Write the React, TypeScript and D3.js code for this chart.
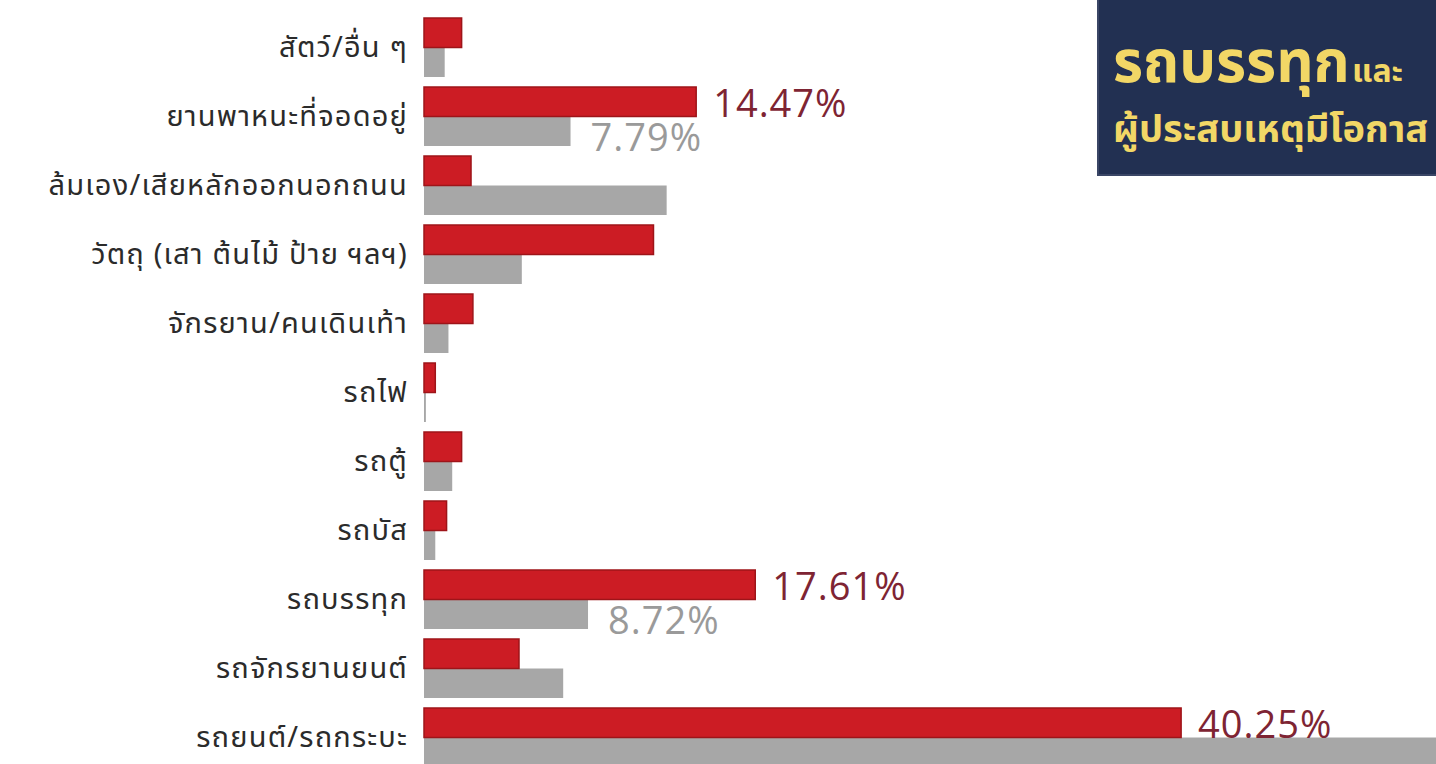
import React from "react";
import * as d3 from "d3";

const categories = [
  "สัตว์/อื่น ๆ",
  "ยานพาหนะที่จอดอยู่",
  "ล้มเอง/เสียหลักออกนอกถนน",
  "วัตถุ (เสา ต้นไม้ ป้าย ฯลฯ)",
  "จักรยาน/คนเดินเท้า",
  "รถไฟ",
  "รถตู้",
  "รถบัส",
  "รถบรรทุก",
  "รถจักรยานยนต์",
  "รถยนต์/รถกระบะ",
];
const redValues = [2.0, 14.47, 2.5, 12.2, 2.6, 0.6, 2.0, 1.2, 17.61, 5.05, 40.25];
const grayValues = [1.1, 7.79, 12.9, 5.2, 1.3, 0.1, 1.5, 0.6, 8.72, 7.4, 54.2];
const redLabels = ["", "14.47%", "", "", "", "", "", "", "17.61%", "", "40.25%"];
const grayLabels = ["", "7.79%", "", "", "", "", "", "", "8.72%", "", ""];
const titleLine1a = "รถบรรทุก";
const titleLine1b = "และ";
const titleLine2 = "ผู้ประสบเหตุมีโอกาส";

const W = 1436;
const H = 764;
const THAI = "'Noto Sans Thai', 'Noto Sans Thai UI', 'Noto Sans', sans-serif";
const NUM = "'Open Sans', 'Noto Sans', sans-serif";

export default function App() {
  const x = d3.scaleLinear().domain([0, 53.8]).range([424, W]);
  const y = d3
    .scaleBand<string>()
    .domain(categories)
    .range([18, 18 + 69 * 11 - 10])
    .paddingInner(10 / 69)
    .paddingOuter(0);
  const sub = d3.scaleBand<string>().domain(["red", "gray"]).range([0, y.bandwidth()]);

  return (
    <svg
      width={W}
      height={H}
      style={{ position: "absolute", left: 0, top: 0, background: "#fff" }}
    >
      <rect x={0} y={0} width={W} height={H} fill="#fff" />
      {categories.map((c, i) => {
        const y0 = y(c)!;
        const yr = y0 + sub("red")!;
        const yg = y0 + sub("gray")!;
        return (
          <g key={c}>
            <rect
              x={x(0)}
              y={yg}
              width={x(grayValues[i]) - x(0)}
              height={sub.bandwidth()}
              fill="#a7a7a7"
            />
            <rect
              x={x(0)}
              y={yr}
              width={x(redValues[i]) - x(0)}
              height={sub.bandwidth()}
              fill="#cc1c24"
              stroke="#9e1419"
              strokeWidth={1.5}
            />
            <text
              x={408}
              y={y0 + y.bandwidth() / 2}
              textAnchor="end"
              dominantBaseline="central"
              fontFamily={THAI}
              fontSize={29}
              letterSpacing={1.2}
              fill="#2b2b2b"
            >
              {c}
            </text>
            {redLabels[i] && (
              <text
                x={x(redValues[i]) + 17}
                y={yr + sub.bandwidth()}
                fontFamily={NUM}
                fontSize={38}
                letterSpacing={1}
                fill="#7e2433"
              >
                {redLabels[i]}
              </text>
            )}
            {grayLabels[i] && (
              <text
                x={x(grayValues[i]) + 20}
                y={yg + sub.bandwidth() + 5}
                fontFamily={NUM}
                fontSize={38}
                letterSpacing={1}
                fill="#9a9a9a"
              >
                {grayLabels[i]}
              </text>
            )}
          </g>
        );
      })}
      <g>
        <rect x={1098} y={-10} width={360} height={185} fill="#223052" stroke="#3a4666" strokeWidth={2} />
        <text x={1113} y={82} fontFamily={THAI} fontSize={58} fontWeight={700} fill="#f2d766">
          {titleLine1a}
        </text>
        <text x={1352} y={82} fontFamily={THAI} fontSize={32} fontWeight={700} fill="#f2d766">
          {titleLine1b}
        </text>
        <text x={1113} y={142} fontFamily={THAI} fontSize={38} fontWeight={700} fill="#f2d766">
          {titleLine2}
        </text>
      </g>
    </svg>
  );
}
